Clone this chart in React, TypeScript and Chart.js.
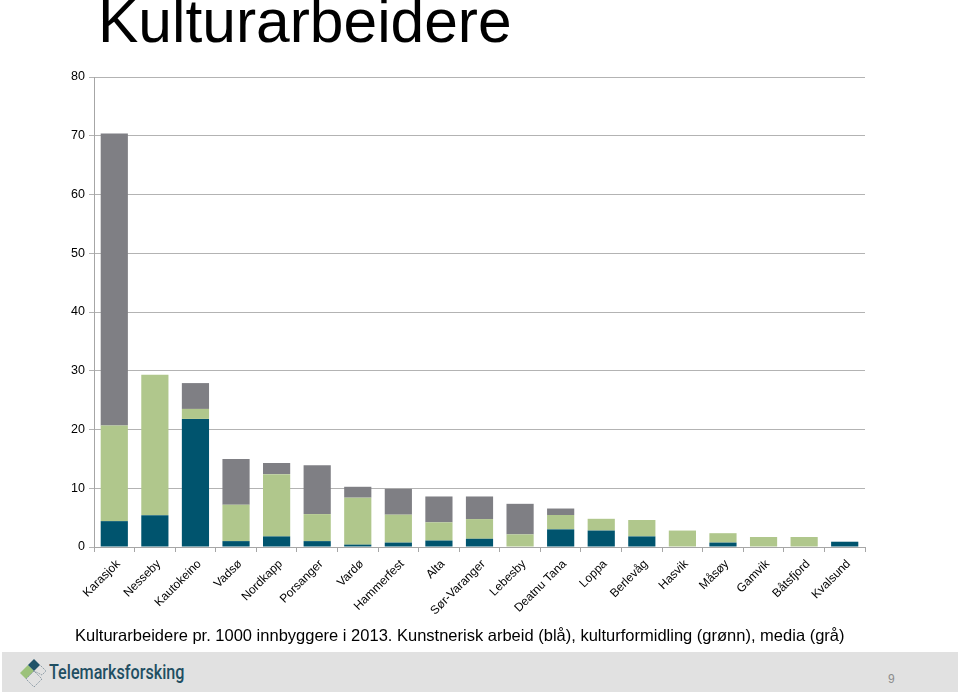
import React, { useEffect, useRef } from "react";
import { Chart, registerables } from "chart.js";

Chart.register(...registerables);

const categories = [
  "Karasjok", "Nesseby", "Kautokeino", "Vadsø", "Nordkapp", "Porsanger", "Vardø",
  "Hammerfest", "Alta", "Sør-Varanger", "Lebesby", "Deatnu Tana", "Loppa", "Berlevåg",
  "Hasvik", "Måsøy", "Gamvik", "Båtsfjord", "Kvalsund",
];
const kunstnerisk = [4.4, 5.4, 21.8, 1.0, 1.8, 1.0, 0.4, 0.75, 1.1, 1.4, 0, 3.0, 2.8, 1.8, 0, 0.75, 0, 0, 0.9];
const formidling = [16.3, 23.9, 1.7, 6.2, 10.6, 4.6, 8.0, 4.75, 3.1, 3.35, 2.15, 2.45, 2.0, 2.8, 2.8, 1.6, 1.7, 1.7, 0];
const media = [49.7, 0, 4.4, 7.8, 1.9, 8.3, 1.85, 4.4, 4.4, 3.85, 5.2, 1.1, 0, 0, 0, 0, 0, 0, 0];
const yTicks = [0, 10, 20, 30, 40, 50, 60, 70, 80];

const BLUE = "#00546e";
const GREEN = "#b0c78c";
const GREY = "#7f7f84";

function ChartView() {
  const ref = useRef<HTMLCanvasElement | null>(null);
  useEffect(() => {
    if (!ref.current) return;
    const chart = new Chart(ref.current, {
      type: "bar",
      data: {
        labels: categories,
        datasets: [
          { label: "Kunstnerisk arbeid", data: kunstnerisk, backgroundColor: BLUE, barPercentage: 0.67, categoryPercentage: 1 },
          { label: "Kulturformidling", data: formidling, backgroundColor: GREEN, barPercentage: 0.67, categoryPercentage: 1 },
          { label: "Media", data: media, backgroundColor: GREY, barPercentage: 0.67, categoryPercentage: 1 },
        ],
      },
      options: {
        animation: false,
        responsive: false,
        maintainAspectRatio: false,
        layout: { padding: { top: 77, right: 95, left: 0, bottom: 0 } },
        plugins: { legend: { display: false }, tooltip: { enabled: false }, title: { display: false } },
        scales: {
          x: {
            stacked: true,
            offset: true,
            afterFit: (s: any) => { s.height = 105; },
            grid: { offset: true, drawOnChartArea: false, drawTicks: true, tickLength: 5, color: "#a6a6a6" },
            border: { color: "#a6a6a6", width: 1 },
            ticks: {
              minRotation: 45, maxRotation: 45, autoSkip: false, padding: 5, labelOffset: 4,
              color: "#000", font: { family: "Liberation Sans, Arial", size: 12 },
            },
          },
          y: {
            stacked: true,
            min: 0, max: 80,
            afterFit: (s: any) => { s.width = 94; },
            afterBuildTicks: (s: any) => { s.ticks = yTicks.map((v) => ({ value: v })); },
            grid: { color: "#b3b3b3", lineWidth: 1, tickLength: 5, drawTicks: true },
            border: { color: "#a6a6a6", width: 1 },
            ticks: { padding: 4, color: "#000", font: { family: "Liberation Sans, Arial", size: 12.5 } },
          },
        },
      },
    });
    return () => chart.destroy();
  }, []);
  return <canvas ref={ref} width={960} height={652} style={{ position: "absolute", left: 0, top: 0, width: 960, height: 652 }} />;
}

export default function App() {
  return (
    <div style={{ position: "absolute", left: 0, top: 0, width: 960, height: 694, background: "#fff", overflow: "hidden", fontFamily: "Liberation Sans, Arial, sans-serif" }}>
      <ChartView />
      <div style={{ position: "absolute", left: 98, top: -13, fontSize: 60.5, lineHeight: "68px", color: "#000", whiteSpace: "nowrap" }}>Kulturarbeidere</div>
      <div style={{ position: "absolute", left: 75, top: 625, fontSize: 16.5, lineHeight: "20px", color: "#000", whiteSpace: "nowrap" }}>
        Kulturarbeidere pr. 1000 innbyggere i 2013. Kunstnerisk arbeid (blå), kulturformidling (grønn), media (grå)
      </div>
      <div style={{ position: "absolute", left: 2, top: 652, width: 956, height: 40, background: "#e1e1e1" }}>
        <svg width="32" height="34" viewBox="0 0 32 34" style={{ position: "absolute", left: 14, top: 4 }}>
          <polygon points="4,17 12,9 18,15 10,23" fill="#9cc27a" />
          <polygon points="12,9 18,3 24,9 18,15" fill="#1f5368" />
          <polygon points="10,23 18,15 26,23 18,31" fill="none" stroke="#8a9aa5" strokeWidth="1" strokeDasharray="1.5,1" />
          <polygon points="18,15 24,9 30,15 26,19" fill="none" stroke="#8a9aa5" strokeWidth="1" strokeDasharray="1.5,1" />
        </svg>
        <div style={{ position: "absolute", left: 47, top: 8, fontSize: 21, lineHeight: "24px", color: "#1f4f63", fontFamily: "Roboto, sans-serif", fontWeight: 500, transform: "scaleX(0.77)", transformOrigin: "left center", whiteSpace: "nowrap" }}>Telemarksforsking</div>
        <div style={{ position: "absolute", left: 886, top: 20, fontSize: 12, color: "#8c8c8c" }}>9</div>
      </div>
    </div>
  );
}
